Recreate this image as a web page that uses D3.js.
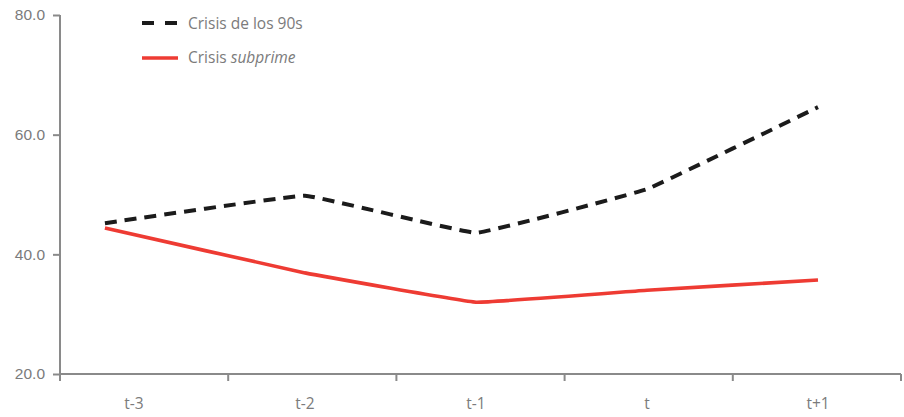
<!DOCTYPE html>
<html>
<head>
<meta charset="utf-8">
<script src="https://cdn.jsdelivr.net/npm/d3@7"></script>
<style>
  body { margin: 0; background: #fff; }
  svg { display: block; font-family: "Open Sans", "Noto Sans", sans-serif; }
</style>
</head>
<body>
<svg id="chart" width="904" height="417"></svg>
<script>
const categories = ["t-3", "t-2", "t-1", "t", "t+1"];
const crisis90s = [45.2, 49.8, 43.6, 50.9, 64.6];
const crisisSubprime = [44.4, 36.9, 32.0, 34.0, 35.7];
const yTicks = [20, 40, 60, 80];
const seriesNames = ["Crisis de los 90s", "Crisis "];

(function () {
const svg = d3.select("#chart");
const axisColor = "#8a8a8a";
const textColor = "#7b7b7b";
const red = "#ee3b33";
const black = "#1b1b1b";

const mLeft = 60, mRight = 901, mTop = 15, mBottom = 374;

const y = d3.scaleLinear().domain([20, 80]).range([mBottom, mTop]);
const band = d3.scaleBand().domain(categories).range([mLeft, mRight]);
const xLab = d3.scalePoint().domain(categories).range([134, 818]);
// lines: first point starts a little earlier than its label, as in the reference
const xLine = (c, i) => i === 0 ? xLab(c) - 0.17 * xLab.step() : xLab(c);

// Y axis
const yAxis = svg.append("g").attr("transform", `translate(${mLeft},0)`)
  .call(d3.axisLeft(y).tickValues(yTicks).tickSize(7).tickPadding(8).tickFormat(d3.format(".1f")));
yAxis.select(".domain").attr("stroke", axisColor).attr("stroke-width", 2).attr("d", `M0,${mTop}V${mBottom}`);
yAxis.selectAll(".tick line").attr("stroke", axisColor).attr("stroke-width", 2);
yAxis.selectAll(".tick text").attr("fill", textColor).attr("font-size", 15.5);

// X axis
const xg = svg.append("g").attr("transform", `translate(0,${mBottom})`);
xg.append("line").attr("x1", mLeft).attr("x2", mRight).attr("stroke", axisColor).attr("stroke-width", 2);
const bounds = categories.map(c => band(c)).concat([band(categories[categories.length - 1]) + band.bandwidth()]);
xg.selectAll("line.tk").data(bounds).join("line").attr("class", "tk")
  .attr("x1", d => d).attr("x2", d => d).attr("y1", 0).attr("y2", 7)
  .attr("stroke", axisColor).attr("stroke-width", 2);
xg.selectAll("text").data(categories).join("text")
  .attr("x", d => xLab(d)).attr("y", 35)
  .attr("text-anchor", "middle").attr("fill", textColor).attr("font-size", 15.5)
  .text(d => d);

// Lines
const line = d3.line()
  .x(d => xLine(d.c, d.i))
  .y(d => y(d.v))
  .curve(d3.curveCardinal.tension(0.8));

const toPts = arr => arr.map((v, i) => ({ c: categories[i], i, v }));

svg.append("path").datum(toPts(crisisSubprime))
  .attr("d", line).attr("fill", "none").attr("stroke", red).attr("stroke-width", 3.6);

svg.append("path").datum(toPts(crisis90s))
  .attr("d", line).attr("fill", "none").attr("stroke", black).attr("stroke-width", 4)
  .attr("stroke-dasharray", "12,8");

// Legend
const lg = svg.append("g");
lg.append("line").attr("x1", 142).attr("x2", 178).attr("y1", 23).attr("y2", 23)
  .attr("stroke", black).attr("stroke-width", 4).attr("stroke-dasharray", "12,11");
lg.append("text").attr("x", 188).attr("y", 29).attr("fill", textColor).attr("font-size", 15.5)
  .text(seriesNames[0]);
lg.append("line").attr("x1", 142).attr("x2", 178).attr("y1", 58).attr("y2", 58)
  .attr("stroke", red).attr("stroke-width", 3.6);
const t2 = lg.append("text").attr("x", 188).attr("y", 63).attr("fill", textColor).attr("font-size", 15.5);
t2.append("tspan").text(seriesNames[1]);
t2.append("tspan").attr("font-style", "italic").text("subprime");
})();
</script>
</body>
</html>
